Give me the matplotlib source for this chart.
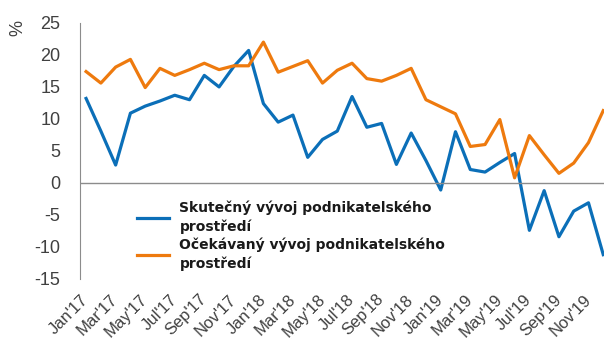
import numpy as np
import matplotlib.pyplot as plt
import matplotlib as mpl

mpl.rcParams['font.family'] = ['Liberation Sans', 'DejaVu Sans']
mpl.rcParams['axes.unicode_minus'] = False

# měsíce Jan'17 - Dec'19
months = ["Jan'17", "Feb'17", "Mar'17", "Apr'17", "May'17", "Jun'17",
          "Jul'17", "Aug'17", "Sep'17", "Oct'17", "Nov'17", "Dec'17",
          "Jan'18", "Feb'18", "Mar'18", "Apr'18", "May'18", "Jun'18",
          "Jul'18", "Aug'18", "Sep'18", "Oct'18", "Nov'18", "Dec'18",
          "Jan'19", "Feb'19", "Mar'19", "Apr'19", "May'19", "Jun'19",
          "Jul'19", "Aug'19", "Sep'19", "Oct'19", "Nov'19", "Dec'19"]

skutecny = [13.2, 8.1, 2.8, 10.9, 12.0, 12.8, 13.7, 13.0, 16.8, 15.0, 18.2, 20.7,
            12.4, 9.5, 10.6, 4.0, 6.8, 8.1, 13.5, 8.7, 9.3, 2.9, 7.8, 3.5,
            -1.1, 8.0, 2.1, 1.7, 3.2, 4.6, -7.4, -1.2, -8.4, -4.4, -3.1, -11.2]

ocekavany = [17.4, 15.6, 18.1, 19.3, 14.9, 17.9, 16.8, 17.7, 18.7, 17.7, 18.3, 18.3,
             22.0, 17.3, 18.2, 19.1, 15.6, 17.6, 18.7, 16.3, 15.9, 16.8, 17.9, 13.0,
             11.9, 10.8, 5.7, 6.0, 9.9, 0.8, 7.4, 4.4, 1.5, 3.1, 6.3, 11.3]

labels = ['Skutečný vývoj podnikatelského\nprostředí',
          'Očekávaný vývoj podnikatelského\nprostředí']

x = np.arange(len(months))

fig = plt.figure(figsize=(6.04, 3.47), dpi=100)
ax = fig.add_axes([0.1325, 0.196, 0.8675, 0.738])

ax.plot(x, skutecny, color='#0b6fb8', lw=2.3, label=labels[0])
ax.plot(x, ocekavany, color='#ee7a0e', lw=2.3, label=labels[1])

ax.axhline(0, color='#8c8c8c', lw=1)
ax.set_xlim(-0.41, 35.05)
ax.set_ylim(-15, 25)
ax.set_yticks(np.arange(-15, 26, 5))
ax.set_xticks(x[::2])
ax.set_xticklabels(months[::2], rotation=45, ha='right', va='center',
                   rotation_mode='anchor')

for s in ['top', 'right', 'bottom']:
    ax.spines[s].set_visible(False)
ax.spines['left'].set_color('#8c8c8c')
ax.tick_params(length=0, labelsize=13, colors='#404040')
ax.tick_params(axis='x', pad=13, labelsize=12)
ax.tick_params(axis='y', pad=14)

fig.text(0.03, 0.92, '%', rotation=90, fontsize=13, color='#404040',
         ha='center', va='center')

leg = ax.legend(loc='upper left', bbox_to_anchor=(0.085, 0.357), frameon=False,
                prop={'family': 'DejaVu Sans', 'weight': 'bold', 'size': 10},
                handlelength=2.3, handletextpad=0.75, labelspacing=0.2,
                labelcolor='#1a1a1a')
for t in leg.get_texts():
    t.set_linespacing(1.45)

plt.savefig('out.png', dpi=100)
